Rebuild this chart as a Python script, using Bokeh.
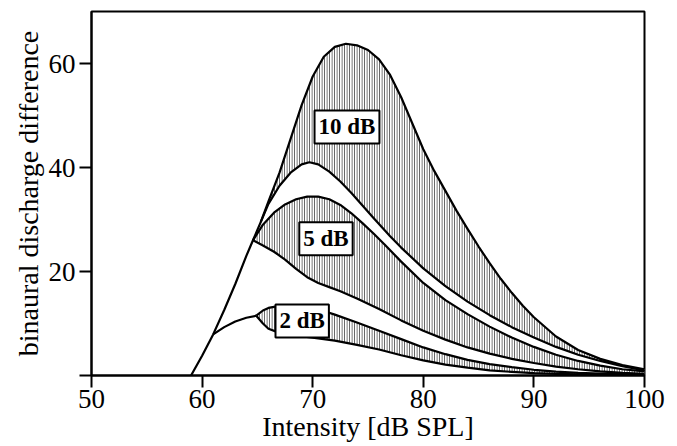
from bokeh.plotting import figure
from bokeh.models import FixedTicker, Label, Range1d
from bokeh.embed import file_html
from bokeh.resources import INLINE

# ---- data ----
outer_x = [59.0, 60.0, 61.0, 62.0, 63.0, 64.0, 64.6, 65.3, 66.0, 67.0, 68.0, 69.0, 70.0, 71.0,
           72.0, 73.0, 74.0, 75.0, 76.0, 77.0, 78.0, 79.0, 80.0, 81.0, 82.0, 83.0, 84.0, 85.0,
           86.0, 87.0, 88.0, 89.0, 90.0, 92.0, 94.0, 96.0, 98.0, 100.0]
outer_y = [0.0, 3.8, 7.9, 12.6, 17.6, 23.0, 26.0, 29.5, 33.5, 39.0, 45.5, 52.0, 57.5, 61.3,
           63.2, 63.8, 63.5, 62.6, 60.8, 57.8, 53.5, 48.5, 43.5, 39.3, 35.5, 31.7, 28.2, 24.8,
           21.6, 18.6, 15.9, 13.4, 11.2, 7.5, 4.9, 3.2, 2.0, 1.2]

ten_low_x = [65.3, 66.0, 67.0, 68.0, 69.0, 69.7, 70.5, 71.5, 72.5, 73.5, 74.5, 75.5, 77.0, 78.0,
             80.0, 82.0, 84.0, 86.0, 88.0, 90.0, 92.0, 94.0, 96.0, 98.0, 100.0]
ten_low_y = [29.5, 33.0, 36.5, 39.0, 40.6, 41.0, 40.6, 39.2, 37.3, 35.1, 32.7, 30.3, 26.8, 24.6,
             20.6, 17.2, 14.2, 11.6, 9.3, 7.3, 5.5, 4.0, 2.8, 1.8, 1.0]

five_up_x = [64.6, 65.5, 66.5, 67.5, 68.5, 69.5, 70.5, 71.5, 72.5, 73.5, 74.5, 75.5, 76.5, 78.0,
             80.0, 82.0, 84.0, 86.0, 88.0, 90.0, 92.0, 94.0, 96.0, 98.0, 100.0]
five_up_y = [26.0, 29.0, 31.3, 32.9, 33.9, 34.4, 34.4, 33.9, 32.8, 31.2, 29.3, 27.3, 25.2, 21.9,
             17.8, 14.5, 11.8, 9.4, 7.3, 5.5, 4.0, 2.8, 1.9, 1.2, 0.8]

five_low_x = [64.6, 65.5, 66.5, 67.5, 68.5, 69.5, 70.5, 71.5, 72.5, 74.0, 76.0, 78.0, 80.0, 82.0,
              84.0, 86.0, 88.0, 90.0, 92.0, 94.0, 96.0, 98.0, 100.0]
five_low_y = [26.0, 25.0, 23.8, 22.3, 20.5, 18.9, 17.8, 17.0, 16.2, 14.8, 12.8, 10.6, 8.6, 6.9,
              5.4, 4.2, 3.2, 2.4, 1.7, 1.2, 0.8, 0.5, 0.3]

two_lead_x = [61.0, 62.0, 63.0, 64.0, 64.9]
two_lead_y = [7.9, 9.3, 10.4, 11.1, 11.5]

two_up_x = [64.9, 65.5, 66.0, 67.0, 68.0, 69.0, 70.0, 71.0, 72.0, 74.0, 76.0, 78.0, 80.0, 82.0,
            84.0, 86.0, 88.0, 90.0, 92.0, 94.0, 96.0, 98.0, 100.0]
two_up_y = [11.5, 12.5, 13.0, 13.4, 13.5, 13.4, 13.0, 12.4, 11.7, 10.2, 8.6, 7.0, 5.4, 4.1,
            3.0, 2.2, 1.6, 1.1, 0.75, 0.5, 0.35, 0.25, 0.2]

two_low_x = [64.9, 65.5, 66.0, 67.0, 68.0, 70.0, 72.0, 74.0, 76.0, 78.0, 80.0, 82.0, 84.0, 86.0,
             88.0, 90.0, 92.0, 95.0, 100.0]
two_low_y = [11.5, 10.0, 9.0, 8.2, 7.8, 7.3, 6.7, 5.9, 5.0, 3.9, 2.9, 2.1, 1.5, 1.0,
             0.7, 0.45, 0.3, 0.15, 0.05]

band_labels = ["10 dB", "5 dB", "2 dB"]
label_x = [73.1, 71.2, 69.05]
label_y = [47.8, 26.3, 10.5]

x_ticks = [50, 60, 70, 80, 90, 100]
y_ticks = [0, 20, 40, 60]
y_tick_labels = {0: "", 20: "20", 40: "40", 60: "60"}
x_title = "Intensity [dB SPL]"
y_title = "binaural discharge difference"

FONT = "Liberation Serif"

p = figure(width=667, height=444, output_backend="svg", toolbar_location=None,
           x_range=Range1d(50, 100), y_range=Range1d(0, 70),
           min_border_left=91, min_border_right=23, min_border_top=11, min_border_bottom=68)
p.background_fill_color = "white"
p.border_fill_color = "white"
p.outline_line_color = "black"
p.outline_line_width = 2
p.grid.visible = False

# shaded bands
def band(ux, uy, lx, ly):
    xs = list(ux) + list(lx)[::-1]
    ys = list(uy) + list(ly)[::-1]
    p.patch(xs, ys, fill_color="white", line_color=None,
            hatch_pattern="vertical_line", hatch_color="#454545",
            hatch_scale=2.5, hatch_weight=1.0)

ten_up_x = [x for x in outer_x if x >= ten_low_x[0]]
ten_up_y = [y for x, y in zip(outer_x, outer_y) if x >= ten_low_x[0]]
band(ten_up_x, ten_up_y, ten_low_x, ten_low_y)
band(five_up_x, five_up_y, five_low_x, five_low_y)
band(two_up_x, two_up_y, two_low_x, two_low_y)

for xs, ys in [(outer_x, outer_y), (ten_low_x, ten_low_y), (five_up_x, five_up_y),
               (five_low_x, five_low_y), (two_lead_x, two_lead_y),
               (two_up_x, two_up_y), (two_low_x, two_low_y)]:
    p.line(xs, ys, line_color="black", line_width=2.2, line_join="round")

for t, lx, ly in zip(band_labels, label_x, label_y):
    p.add_layout(Label(x=lx, y=ly, text=t, text_align="center", text_baseline="middle",
                       text_font=FONT, text_font_size="23px", text_font_style="bold",
                       text_color="black", background_fill_color="white",
                       border_line_color="black", border_line_width=2, padding=4))

for ax in (p.xaxis[0], p.yaxis[0]):
    ax.axis_line_width = 2
    ax.major_tick_line_width = 2
    ax.major_tick_out = 12
    ax.major_tick_in = 0
    ax.minor_tick_line_color = None
    ax.major_label_text_font = FONT
    ax.major_label_text_font_size = "27px"
    ax.major_label_text_color = "black"
    ax.axis_label_text_font = FONT
    ax.axis_label_text_font_size = "28px"
    ax.axis_label_text_font_style = "normal"
    ax.axis_label_text_color = "black"

p.xaxis.ticker = FixedTicker(ticks=x_ticks)
p.yaxis.ticker = FixedTicker(ticks=y_ticks)
p.yaxis.major_label_overrides = y_tick_labels
p.xaxis.axis_label = x_title
p.yaxis.axis_label = y_title
p.xaxis.major_label_standoff = 2
p.xaxis.axis_label_standoff = 0
p.yaxis.major_label_standoff = 4
p.yaxis.axis_label_standoff = 2

open("out.html", "w").write(file_html(p, INLINE))
